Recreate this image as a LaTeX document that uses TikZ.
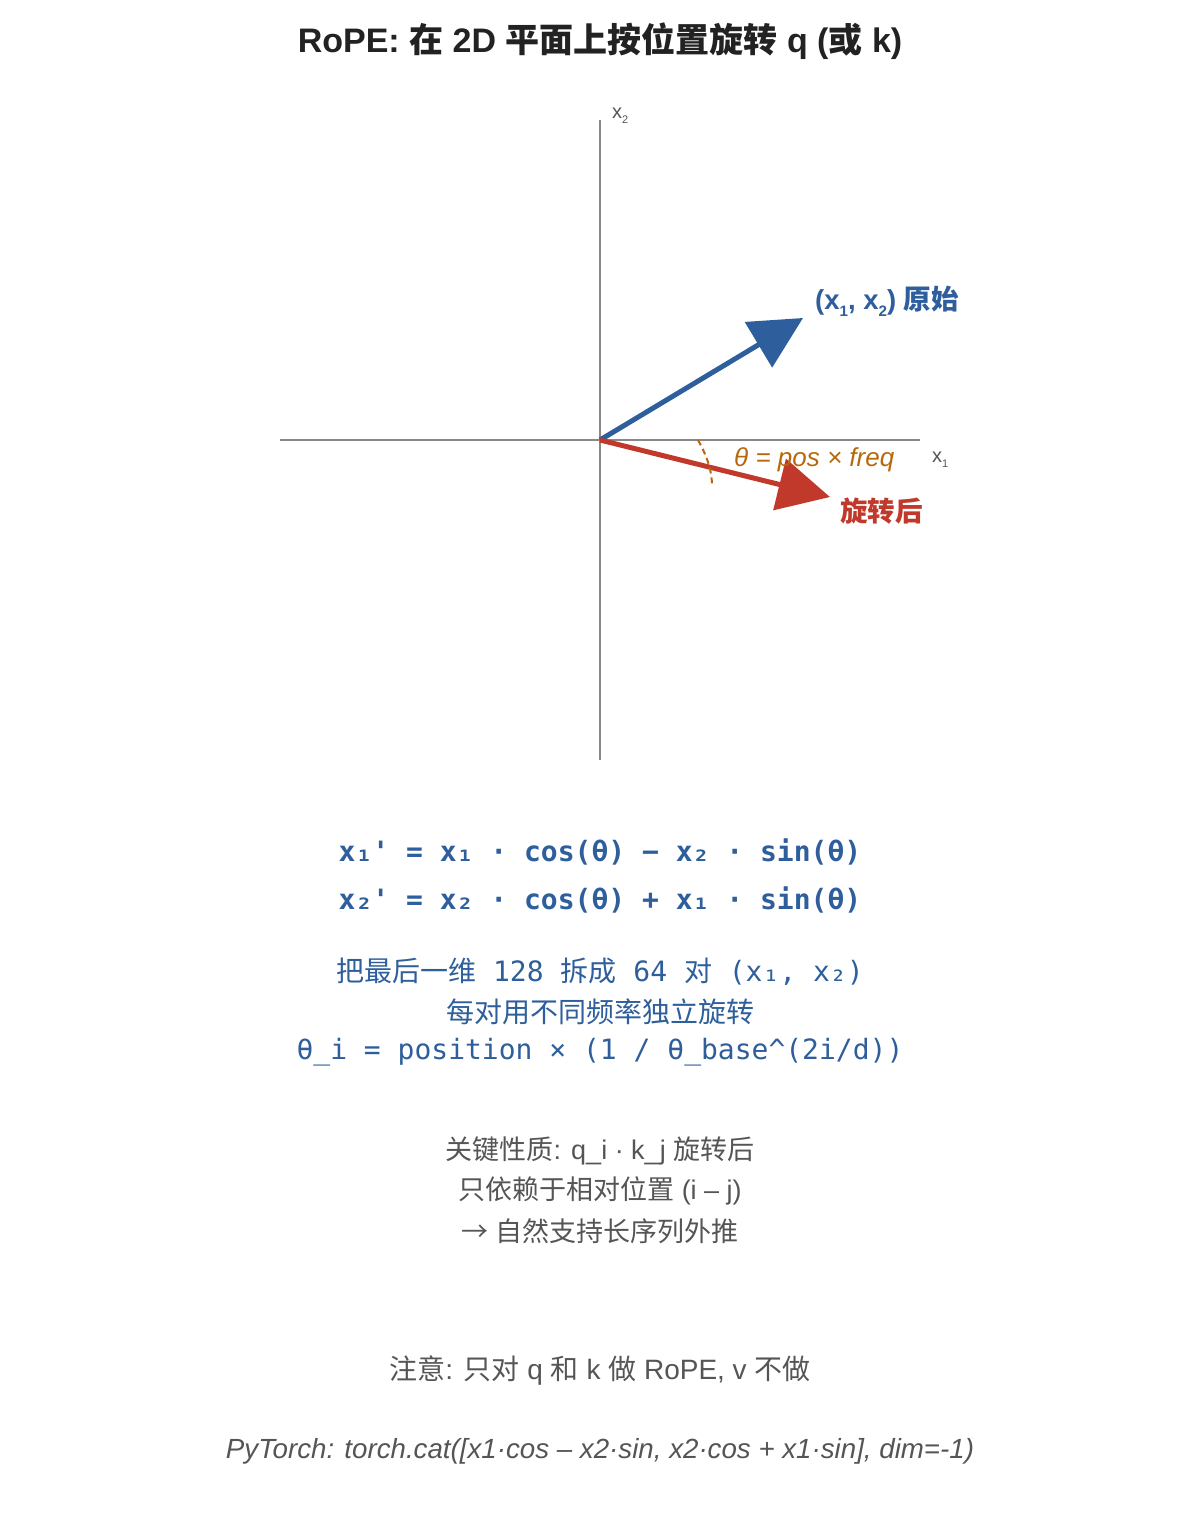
\documentclass[tikz,border=0pt]{standalone}
\usepackage{fontspec}
\setmainfont{Liberation Sans}
\setmonofont{DejaVu Sans Mono}
\newfontfamily\cjk{Noto Sans CJK SC}
\usetikzlibrary{arrows.meta}

\definecolor{ropeblue}{HTML}{2E5E9C}
\definecolor{ropered}{HTML}{C0392B}
\definecolor{ropeorange}{HTML}{B8680A}
\definecolor{axisgray}{HTML}{888888}
\definecolor{notegray}{HTML}{555555}
\definecolor{titlegray}{HTML}{222222}

\newcommand{\zh}[1]{{\cjk #1}}
\newcommand{\lowsub}[1]{\raisebox{-0.5ex}{\scalebox{0.55}{#1}}}

\begin{document}
\begin{tikzpicture}[x=1pt,y=-1pt]
% Styles
\tikzset{
    axis/.style={draw=axisgray, line width=1.5pt},
    axislabel/.style={text=notegray, font=\fontsize{20}{24}\selectfont, inner sep=0pt},
    vec/.style={line width=5pt, -{Triangle[length=52pt, width=52pt]}},
    title/.style={text=titlegray, font=\bfseries\fontsize{34}{40}\selectfont, inner sep=0pt},
    eqline/.style={text=ropeblue, font=\ttfamily\bfseries\fontsize{28}{34}\selectfont, inner sep=0pt},
    monoline/.style={text=ropeblue, font=\ttfamily\fontsize{28}{34}\selectfont, inner sep=0pt},
    noteline/.style={text=notegray, font=\fontsize{27}{32}\selectfont, inner sep=0pt}
}
\useasboundingbox (0,0) rectangle (1200,1540);
% Title
\node[title] (title) at (600,41) {RoPE: \zh{在} 2D \zh{平面上按位置旋转} q (\zh{或} k)};
% Axes
\coordinate (O) at (600,440);
\coordinate (xleft) at (280,440);
\coordinate (xright) at (920,440);
\coordinate (ytop) at (600,120);
\coordinate (ybottom) at (600,760);
\draw[axis] (xleft) -- (xright);
\draw[axis] (ytop) -- (ybottom);
\node[axislabel, anchor=west] (xonelabel) at (932,460) {x\lowsub{1}};
\node[axislabel, anchor=west] (xtwolabel) at (612,116) {x\lowsub{2}};
% Vectors
\coordinate (qtip) at (803,318);
\coordinate (rtip) at (830,497);
\draw[vec, ropeblue] (O) -- (qtip);
\draw[vec, ropered] (O) -- (rtip);
\node[text=ropeblue, font=\bfseries\fontsize{27.5}{30}\selectfont, anchor=west, inner sep=0pt] (qlabel) at (815,301) {(x\lowsub{1}, x\lowsub{2}) \zh{原始}};
\node[text=ropered, font=\bfseries\fontsize{27.5}{30}\selectfont, anchor=west, inner sep=0pt] (rlabel) at (840,511) {\zh{旋转后}};
% Angle
\draw[ropeorange, line width=2pt, dash pattern=on 6pt off 4pt] (698,440) .. controls (708,458) and (712,472) .. (712,486);
\node[text=ropeorange, font=\itshape\fontsize{26}{30}\selectfont, anchor=west, inner sep=0pt] (theta) at (734,460) {θ = pos × freq};
% Formulas
\node[eqline] (eqa) at (600,852) {x₁' = x₁ · cos(θ) − x₂ · sin(θ)};
\node[eqline] (eqb) at (600,900) {x₂' = x₂ · cos(θ) + x₁ · sin(θ)};
\node[monoline] (pairs) at (600,972) {\zh{把最后一维} 128 \zh{拆成} 64 \zh{对} (x₁, x₂)};
\node[monoline] (freq) at (600,1012) {\zh{每对用不同频率独立旋转}};
\node[monoline] (thetai) at (600,1052) {θ\_i = position × (1 / θ\_base\^{}(2i/d))};
% Notes
\node[noteline] (keya) at (600,1151) {\zh{关键性质}: q\_i · k\_j \zh{旋转后}};
\node[noteline] (keyb) at (600,1191) {\zh{只依赖于相对位置} (i – j)};
\node[noteline] (keyc) at (600,1231) {\zh{→ 自然支持长序列外推}};
\node[noteline, font=\fontsize{28}{32}\selectfont] (note) at (600,1371) {\zh{注意}: \zh{只对} q \zh{和} k \zh{做} RoPE, v \zh{不做}};
\node[noteline, font=\itshape\fontsize{27.7}{32}\selectfont] (code) at (600,1451) {PyTorch: torch.cat([x1·cos – x2·sin, x2·cos + x1·sin], dim=-1)};
\end{tikzpicture}
\end{document}
